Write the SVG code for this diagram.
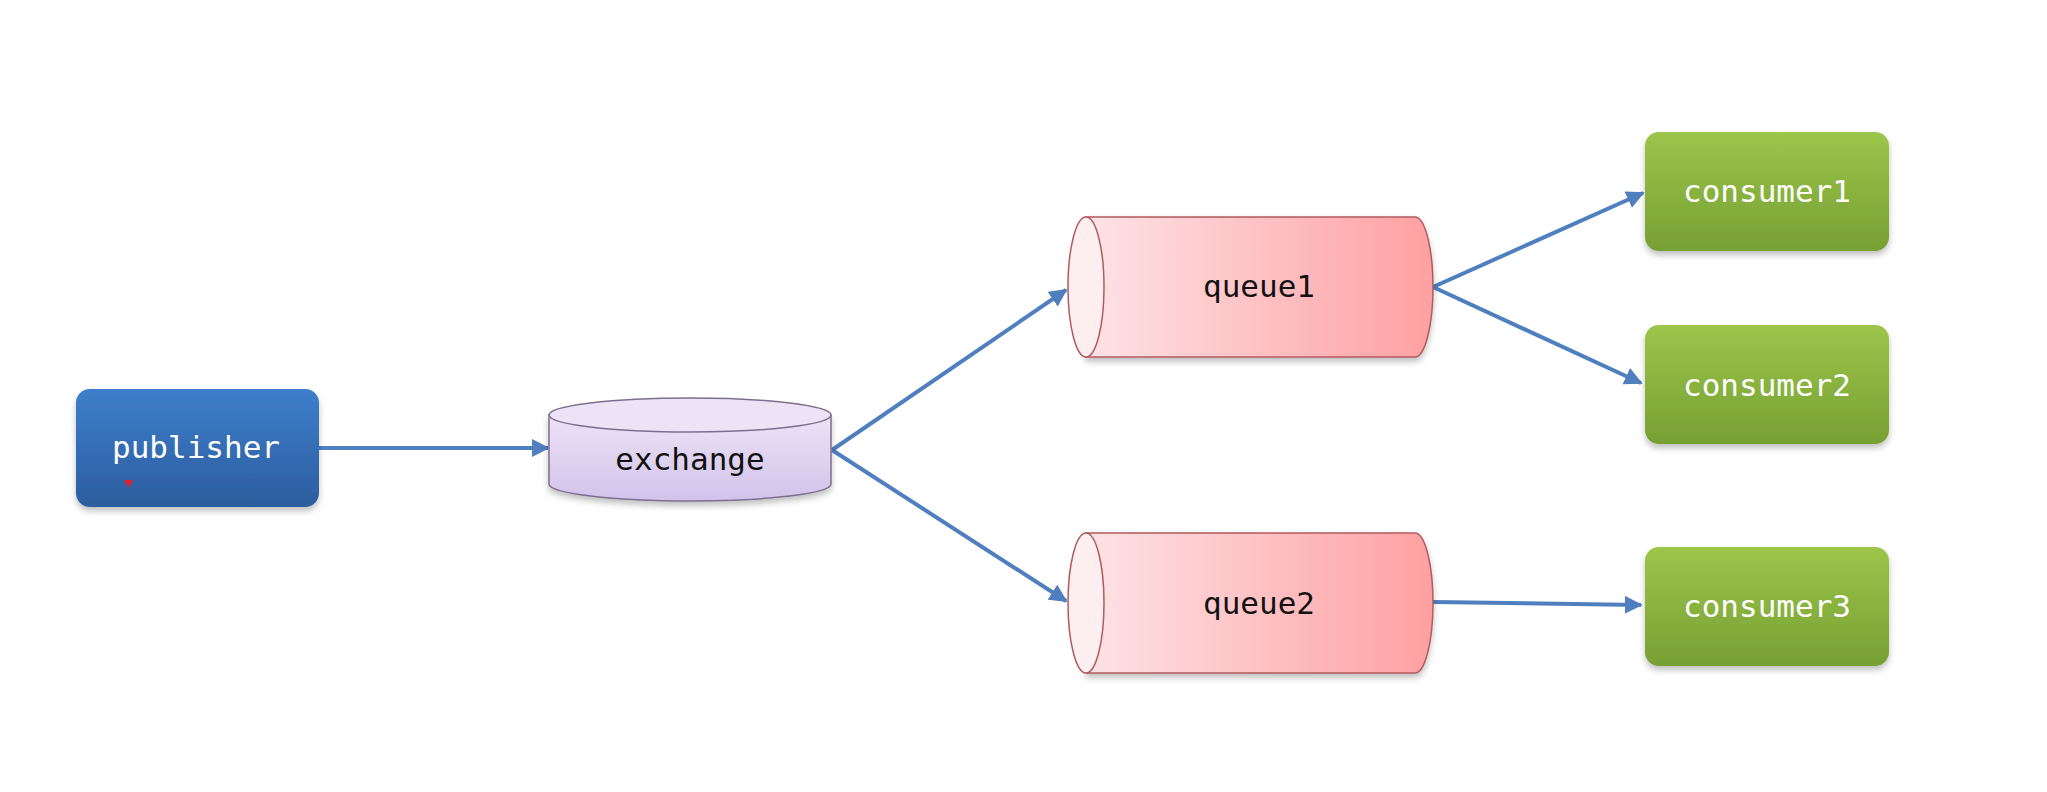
<svg xmlns="http://www.w3.org/2000/svg" width="2047" height="792" viewBox="0 0 2047 792">
<defs>
<style>
.lbl{font-family:"DejaVu Sans Mono","Liberation Mono",monospace;font-size:31px;text-anchor:middle;dominant-baseline:central}
.w{fill:#ffffff}
.k{fill:#111111}
.edge{stroke:#4f7fbf;stroke-width:4;fill:none;marker-end:url(#arr)}
</style>
<marker id="arr" viewBox="0 0 10 10" refX="9" refY="5" markerWidth="4.5" markerHeight="4.5" orient="auto" markerUnits="strokeWidth">
<path d="M0,0 L10,5 L0,10 z" fill="#4f7fbf"/>
</marker>
<linearGradient id="gBlue" x1="0" y1="0" x2="0" y2="1">
<stop offset="0" stop-color="#3d7ecb"/>
<stop offset="1" stop-color="#2c5d9f"/>
</linearGradient>
<linearGradient id="gGreen" x1="0" y1="0" x2="0" y2="1">
<stop offset="0" stop-color="#9cc54a"/>
<stop offset="1" stop-color="#76a033"/>
</linearGradient>
<linearGradient id="gPurple" x1="0" y1="0" x2="0" y2="1">
<stop offset="0" stop-color="#ece4f6"/>
<stop offset="1" stop-color="#d2c2ea"/>
</linearGradient>
<linearGradient id="gRed" x1="0" y1="0" x2="1" y2="0">
<stop offset="0" stop-color="#fde3e6"/>
<stop offset="1" stop-color="#ffa0a2"/>
</linearGradient>
<filter id="sh" x="-10%" y="-10%" width="125%" height="135%">
<feDropShadow dx="0" dy="4" stdDeviation="3" flood-color="#000" flood-opacity="0.25"/>
</filter>
</defs>
<rect width="2047" height="792" fill="#ffffff"/>

<g id="connectors">
<line class="edge" x1="319" y1="448" x2="548" y2="448"/>
<line class="edge" x1="832" y1="450" x2="1066" y2="290"/>
<line class="edge" x1="832" y1="450" x2="1066" y2="601"/>
<line class="edge" x1="1433" y1="287" x2="1643" y2="193"/>
<line class="edge" x1="1433" y1="287" x2="1641" y2="383"/>
<line class="edge" x1="1433" y1="602" x2="1641" y2="605"/>
</g>

<g id="publisher">
<rect x="76" y="389" width="243" height="118" rx="14" fill="url(#gBlue)" filter="url(#sh)"/>
<text class="lbl w" x="196" y="447">publisher</text>
<path d="M124,480 L133,480 L128.5,488 z" fill="#e0202a"/>
</g>

<g id="exchange">
<path d="M549,415 L549,484 A141,17 0 0 0 831,484 L831,415 Z" fill="url(#gPurple)" stroke="#7d6e8e" stroke-width="1.5" filter="url(#sh)"/>
<ellipse cx="690" cy="415" rx="141" ry="17" fill="#ece4f6" stroke="#7d6e8e" stroke-width="1.5"/>
<text class="lbl k" x="690" y="459">exchange</text>
</g>

<g id="queue1">
<path d="M1086,217 L1415,217 A18,70 0 0 1 1415,357 L1086,357 Z" fill="url(#gRed)" stroke="#b35a5e" stroke-width="1.5" filter="url(#sh)"/>
<ellipse cx="1086" cy="287" rx="18" ry="70" fill="#fdeef0" stroke="#b35a5e" stroke-width="1.5"/>
<text class="lbl k" x="1259" y="286">queue1</text>
</g>

<g id="queue2">
<path d="M1086,533 L1415,533 A18,70 0 0 1 1415,673 L1086,673 Z" fill="url(#gRed)" stroke="#b35a5e" stroke-width="1.5" filter="url(#sh)"/>
<ellipse cx="1086" cy="603" rx="18" ry="70" fill="#fdeef0" stroke="#b35a5e" stroke-width="1.5"/>
<text class="lbl k" x="1259" y="603">queue2</text>
</g>

<g id="consumer1">
<rect x="1645" y="132" width="244" height="119" rx="14" fill="url(#gGreen)" filter="url(#sh)"/>
<text class="lbl w" x="1767" y="191">consumer1</text>
</g>

<g id="consumer2">
<rect x="1645" y="325" width="244" height="119" rx="14" fill="url(#gGreen)" filter="url(#sh)"/>
<text class="lbl w" x="1767" y="385">consumer2</text>
</g>

<g id="consumer3">
<rect x="1645" y="547" width="244" height="119" rx="14" fill="url(#gGreen)" filter="url(#sh)"/>
<text class="lbl w" x="1767" y="606">consumer3</text>
</g>
</svg>
